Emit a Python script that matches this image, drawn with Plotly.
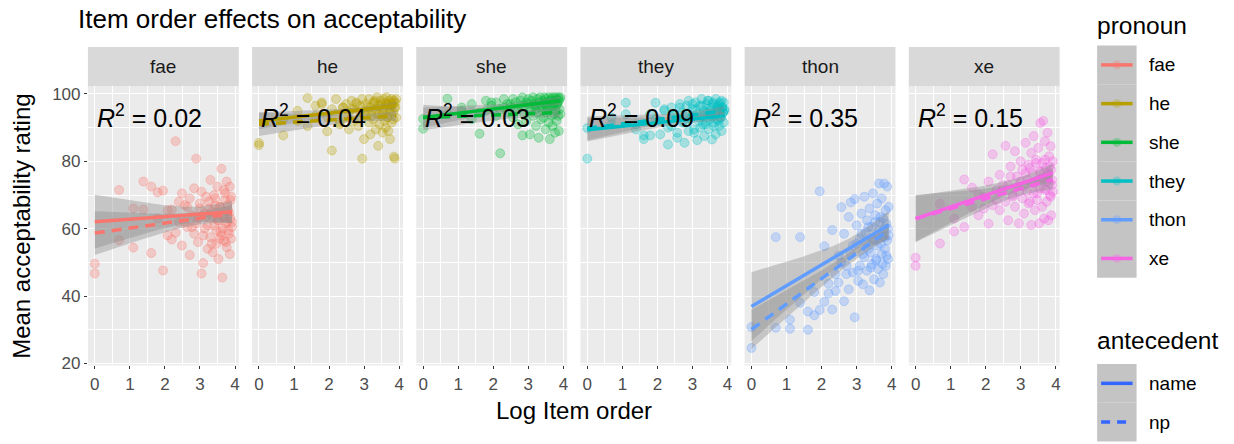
import numpy as np
import plotly.graph_objects as go

# ---- data -------------------------------------------------------------
pronouns = ["fae", "he", "she", "they", "thon", "xe"]
antecedents = ["name", "np"]
colors = ["#F8766D", "#B79F00", "#00BA38", "#00BFC4", "#619CFF", "#F564E3"]
r2_labels = ["0.02", "0.04", "0.03", "0.09", "0.35", "0.15"]
item_order = list(range(1, 51))
x_ticks = [0, 1, 2, 3, 4]
y_ticks = [20, 40, 60, 80, 100]

# mean acceptability per item position (name antecedent / np antecedent)
fae_name = [49.6, 71.5, 66.0, 74.0, 72.5, 70.8, 71.3, 65.5, 65.7, 86.0,
            68.0, 70.5, 62.0, 66.5, 69.0, 60.5, 72.0, 80.8, 63.0, 67.5,
            71.0, 58.0, 64.5, 69.5, 61.0, 66.0, 74.5, 55.5, 63.5, 70.0,
            67.0, 59.5, 72.5, 62.5, 57.0, 66.5, 77.8, 60.0, 64.0, 71.5,
            68.5, 56.0, 74.0, 62.0, 65.5, 58.5, 72.5, 63.0, 69.5, 60.5]
fae_np = [46.7, 56.6, 54.4, 65.7, 52.8, 63.0, 47.6, 58.0, 56.8, 58.8,
          62.0, 55.0, 67.0, 60.5, 52.2, 64.0, 58.5, 61.5, 56.0, 66.0,
          46.7, 49.8, 60.0, 63.5, 54.0, 68.0, 57.5, 65.0, 53.0, 61.0,
          69.0, 55.5, 62.5, 51.0, 66.5, 59.0, 58.0, 45.5, 63.5, 56.5,
          70.5, 61.5, 54.5, 67.0, 59.5, 64.5, 52.5, 68.5, 57.0, 62.0]
he_name = [85.5, 87.7, 92.0, 98.8, 96.5, 97.5, 93.0, 95.5, 98.5, 91.5,
           96.0, 97.0, 94.5, 98.0, 95.5, 97.5, 92.5, 96.5, 98.5, 94.0,
           97.0, 95.0, 98.5, 96.0, 93.5, 97.5, 98.0, 95.5, 99.0, 96.5,
           94.0, 98.0, 97.0, 95.0, 98.5, 96.0, 97.5, 99.0, 93.0, 97.0,
           98.0, 95.5, 96.5, 98.5, 97.0, 94.5, 98.0, 96.0, 97.5, 98.5]
he_np = [84.8, 92.5, 95.0, 90.5, 93.5, 97.0, 88.9, 83.2, 94.0, 91.0,
         96.0, 93.0, 89.5, 95.5, 92.0, 97.0, 90.5, 94.5, 80.8, 86.6,
         93.5, 96.0, 91.5, 88.0, 95.0, 92.5, 97.5, 89.5, 94.0, 84.6,
         91.0, 96.5, 93.5, 88.5, 95.5, 92.0, 90.0, 97.0, 93.0, 89.0,
         95.0, 86.6, 94.5, 91.5, 97.5, 92.5, 81.4, 80.8, 96.0, 93.0]
she_name = [92.6, 98.6, 95.0, 97.0, 94.5, 98.0, 96.5, 97.5, 95.5, 98.5,
            97.0, 96.0, 98.5, 97.5, 95.5, 98.0, 99.0, 96.5, 97.5, 98.5,
            96.0, 98.0, 99.0, 97.0, 95.5, 98.5, 97.5, 99.0, 96.5, 98.0,
            97.5, 99.0, 98.5, 96.0, 97.5, 99.0, 98.0, 96.5, 98.5, 99.0,
            97.5, 98.0, 99.0, 96.5, 98.5, 97.5, 99.0, 98.0, 98.5, 99.0]
she_np = [89.7, 94.0, 96.0, 92.5, 88.2, 95.0, 97.5, 93.5, 82.4, 96.0,
          94.5, 97.0, 93.0, 95.5, 91.0, 96.5, 87.7, 94.0, 92.0, 97.0,
          88.0, 95.0, 93.5, 96.5, 90.5, 94.5, 87.0, 96.0, 92.5, 95.0,
          93.0, 97.0, 89.5, 94.5, 96.0, 91.5, 86.6, 95.5, 93.5, 90.5,
          96.5, 94.0, 88.5, 95.0, 92.0, 97.0, 93.5, 89.0, 95.5, 94.0]
they_name = [89.9, 93.0, 97.4, 91.0, 87.7, 94.0, 97.4, 92.0, 95.5, 90.0,
             96.0, 93.5, 88.5, 97.0, 94.5, 91.5, 96.5, 98.0, 93.0, 95.5,
             89.5, 97.5, 94.0, 92.0, 96.5, 98.5, 93.5, 95.0, 91.0, 97.0,
             94.5, 98.0, 92.5, 96.0, 93.5, 97.5, 90.5, 95.0, 98.5, 94.0,
             96.5, 92.0, 97.0, 95.5, 93.0, 98.0, 96.0, 94.5, 97.5, 95.0]
they_np = [80.8, 91.0, 94.0, 89.5, 86.6, 87.7, 92.5, 88.0, 95.0, 85.0,
           90.5, 93.5, 87.0, 96.0, 91.5, 85.5, 94.0, 89.0, 92.5, 97.0,
           88.5, 95.5, 86.3, 93.0, 90.0, 96.5, 91.0, 87.5, 94.5, 92.0,
           98.0, 89.5, 95.0, 93.5, 86.5, 97.0, 91.5, 94.0, 88.0, 96.0,
           92.5, 95.5, 90.5, 97.5, 93.0, 89.0, 96.0, 94.5, 91.5, 95.5]
thon_name = [30.8, 57.5, 30.3, 57.5, 35.4, 41.2, 71.1, 54.8, 43.7, 59.6,
             46.5, 52.0, 66.4, 58.5, 49.0, 63.5, 67.8, 55.0, 68.8, 61.0,
             47.5, 57.0, 64.5, 52.5, 69.5, 59.0, 62.5, 54.0, 66.0, 48.5,
             60.5, 70.5, 56.5, 64.0, 51.0, 67.5, 58.0, 73.4, 62.0, 55.5,
             69.0, 49.5, 63.0, 73.4, 57.5, 65.5, 52.0, 72.5, 60.0, 66.5]
thon_np = [24.6, 30.6, 33.0, 38.0, 30.0, 34.3, 35.9, 38.3, 40.8, 36.0,
           41.5, 44.0, 50.0, 38.5, 46.5, 42.0, 52.5, 47.0, 33.7, 55.5,
           44.5, 49.0, 58.5, 43.5, 51.5, 56.0, 47.5, 60.5, 41.7, 53.0,
           49.5, 57.0, 45.0, 62.0, 50.5, 55.0, 48.0, 59.5, 44.0, 63.5,
           52.5, 57.5, 46.5, 60.0, 54.0, 49.0, 61.5, 56.5, 51.0, 58.0]
xe_name = [51.4, 67.4, 59.2, 74.6, 72.2, 70.2, 66.0, 74.0, 82.1, 68.5,
           76.0, 71.5, 84.6, 73.0, 78.5, 69.5, 83.0, 75.5, 71.0, 80.0,
           77.5, 72.5, 85.5, 74.5, 79.0, 68.0, 82.5, 76.5, 87.5, 73.5,
           80.5, 70.5, 84.0, 77.0, 91.4, 75.0, 79.5, 92.0, 72.0, 86.0,
           78.0, 74.0, 88.5, 76.5, 81.5, 70.0, 84.5, 77.5, 73.0, 80.0]
xe_np = [49.0, 55.6, 63.0, 60.5, 66.5, 64.0, 69.5, 61.5, 67.0, 71.5,
         65.5, 73.0, 68.0, 62.5, 75.5, 70.0, 66.5, 72.5, 61.6, 74.0,
         69.0, 64.5, 76.5, 71.0, 67.5, 78.0, 61.1, 73.5, 70.5, 65.5,
         79.5, 68.5, 74.5, 61.6, 72.0, 77.0, 66.5, 75.0, 63.0, 80.5,
         71.5, 68.0, 76.0, 62.5, 73.5, 78.5, 69.5, 64.0, 74.5, 71.0]

ratings = {
    "fae": (fae_name, fae_np), "he": (he_name, he_np), "she": (she_name, she_np),
    "they": (they_name, they_np), "thon": (thon_name, thon_np), "xe": (xe_name, xe_np),
}

# linear fits: value at first item, value at last item, CI half-width at first item
fit_name_start = [62.1, 92.0, 93.0, 89.4, 36.9, 63.0]
fit_name_end = [65.0, 96.5, 98.0, 93.5, 61.1, 76.6]
fit_name_ci0 = [8.0, 2.5, 3.0, 3.5, 10.2, 6.8]
fit_np_start = [58.7, 91.0, 93.0, 89.8, 30.1, 63.0]
fit_np_end = [64.5, 93.5, 94.5, 95.0, 59.6, 74.6]
fit_np_ci0 = [6.5, 3.5, 3.8, 3.5, 5.8, 7.0]

# ---- geometry (pixels in a 1234 x 444 canvas) ----------------------------
W, H = 1234, 444
panel_left0, panel_w, panel_step = 88, 151, 164.3
panel_top, panel_bottom = 87, 372
strip_top = 47

TICK_SIZE = 17
AXIS_TITLE_SIZE = 24
STRIP_SIZE = 19
R2_SIZE = 25
LEGEND_TITLE_SIZE = 24.5
LEGEND_TEXT_SIZE = 19


def fx(px):
    return px / W


def fy(py):
    return 1 - py / H


def rgba(hex_color, a):
    h = hex_color.lstrip("#")
    r, g, b = int(h[0:2], 16), int(h[2:4], 16), int(h[4:6], 16)
    return f"rgba({r},{g},{b},{a})"


x_pts = np.log(np.array(item_order, dtype=float))
x_last = x_pts[-1]
n = len(x_pts)
xbar = x_pts.mean()
sxx = ((x_pts - xbar) ** 2).sum()
x_line = np.linspace(0, x_last, 80)


def se_shape(x):
    return np.sqrt(1 / n + (x - xbar) ** 2 / sxx)


fig = go.Figure()
layout_axes = {}
annotations = []
shapes = []

for i, p in enumerate(pronouns):
    k = "" if i == 0 else str(i + 1)
    xa, ya = "x" + k, "y" + k
    left = panel_left0 + i * panel_step
    right = left + panel_w
    col = colors[i]

    layout_axes["xaxis" + k] = dict(
        domain=[fx(left), fx(right)], anchor=ya, range=[-0.196, 4.107],
        tickvals=x_ticks, ticktext=[str(t) for t in x_ticks],
        showgrid=True, gridcolor="white", gridwidth=1.1, zeroline=False,
        minor=dict(dtick=0.5, tick0=0, showgrid=True, gridcolor="white", gridwidth=0.5),
        ticks="outside", ticklen=3, tickcolor="#333333", tickwidth=1.1,
        tickfont=dict(size=TICK_SIZE, color="#4D4D4D"), showline=False,
    )
    layout_axes["yaxis" + k] = dict(
        domain=[fy(panel_bottom), fy(panel_top)], anchor=xa, range=[19.4, 102.3],
        tickvals=y_ticks, showgrid=True, gridcolor="white", gridwidth=1.1, zeroline=False,
        minor=dict(dtick=10, tick0=10, showgrid=True, gridcolor="white", gridwidth=0.5),
        ticks="outside" if i == 0 else "", ticklen=3, tickcolor="#333333", tickwidth=1.1,
        showticklabels=(i == 0), tickfont=dict(size=TICK_SIZE, color="#4D4D4D"), showline=False,
    )

    # points
    for vals in ratings[p]:
        fig.add_trace(go.Scatter(
            x=x_pts, y=vals, mode="markers", xaxis=xa, yaxis=ya, showlegend=False,
            marker=dict(size=9, color=rgba(col, 0.3), line=dict(color=rgba(col, 0.3), width=1)),
            hoverinfo="skip",
        ))

    fits = [
        (fit_name_start[i], fit_name_end[i], fit_name_ci0[i], "solid"),
        (fit_np_start[i], fit_np_end[i], fit_np_ci0[i], "10px,7px"),
    ]
    # confidence ribbons
    for y0, y1, ci0, _ in fits:
        yl = y0 + (y1 - y0) * x_line / x_last
        hw = ci0 * se_shape(x_line) / se_shape(0.0)
        fig.add_trace(go.Scatter(
            x=np.concatenate([x_line, x_line[::-1]]),
            y=np.concatenate([yl + hw, (yl - hw)[::-1]]),
            fill="toself", fillcolor="rgba(140,140,140,0.4)", line=dict(width=0),
            mode="lines", xaxis=xa, yaxis=ya, showlegend=False, hoverinfo="skip",
        ))
    # fitted lines
    for y0, y1, ci0, dash in fits:
        yl = y0 + (y1 - y0) * x_line / x_last
        fig.add_trace(go.Scatter(
            x=x_line, y=yl, mode="lines", xaxis=xa, yaxis=ya, showlegend=False,
            line=dict(color=col, width=3.5, dash=dash), hoverinfo="skip",
        ))

    annotations.append(dict(
        x=0, y=93.6, xref=xa, yref=ya, xanchor="left", yanchor="middle", showarrow=False,
        text=f"<i>R</i><sup>2</sup> = {r2_labels[i]}", font=dict(size=R2_SIZE, color="black"),
    ))

    # facet strip
    shapes.append(dict(type="rect", xref="paper", yref="paper", x0=fx(left), x1=fx(right),
                       y0=fy(panel_top), y1=fy(strip_top), fillcolor="#D9D9D9", line=dict(width=0),
                       layer="below"))
    annotations.append(dict(x=fx((left + right) / 2), y=fy((strip_top + panel_top) / 2),
                            xref="paper", yref="paper", text=p, showarrow=False,
                            font=dict(size=STRIP_SIZE, color="#1A1A1A"), xanchor="center", yanchor="middle"))

# ---- titles -----------------------------------------------------------
annotations.append(dict(x=fx(76), y=fy(18), xref="paper", yref="paper", showarrow=False,
                        text="Item order effects on acceptability", xanchor="left", yanchor="middle",
                        font=dict(size=26, color="black")))
annotations.append(dict(x=fx((panel_left0 + panel_left0 + 5 * panel_step + panel_w) / 2), y=fy(418),
                        xref="paper", yref="paper", showarrow=False, text="Log Item order",
                        xanchor="center", yanchor="middle", font=dict(size=AXIS_TITLE_SIZE, color="black")))
annotations.append(dict(x=fx(22), y=fy((panel_top + panel_bottom) / 2), xref="paper", yref="paper",
                        showarrow=False, text="Mean acceptability rating", textangle=-90,
                        xanchor="center", yanchor="middle", font=dict(size=AXIS_TITLE_SIZE, color="black")))

# ---- legends ----------------------------------------------------------
key_x0, key_x1 = 1098, 1137.5
key_h = 39.5
annotations.append(dict(x=fx(key_x0 - 2), y=fy(25), xref="paper", yref="paper", showarrow=False,
                        text="pronoun", xanchor="left", yanchor="middle",
                        font=dict(size=LEGEND_TITLE_SIZE, color="black")))
pk_top = 45.5
for j, p in enumerate(pronouns):
    cy = pk_top + key_h * (j + 0.5)
    shapes.append(dict(type="rect", xref="paper", yref="paper", x0=fx(key_x0), x1=fx(key_x1),
                       y0=fy(pk_top + key_h * (j + 1)), y1=fy(pk_top + key_h * j),
                       fillcolor="#C4C4C4", line=dict(width=0)))
    shapes.append(dict(type="circle", xref="paper", yref="paper",
                       x0=fx((key_x0 + key_x1) / 2 - 4.5), x1=fx((key_x0 + key_x1) / 2 + 4.5),
                       y0=fy(cy + 4.5), y1=fy(cy - 4.5), fillcolor=rgba(colors[j], 0.3),
                       line=dict(width=0)))
    shapes.append(dict(type="line", xref="paper", yref="paper", x0=fx(key_x0 + 4), x1=fx(key_x1 - 4),
                       y0=fy(cy), y1=fy(cy), line=dict(color=colors[j], width=3.5)))
    annotations.append(dict(x=fx(1148), y=fy(cy), xref="paper", yref="paper", showarrow=False,
                            text=p, xanchor="left", yanchor="middle",
                            font=dict(size=LEGEND_TEXT_SIZE, color="black")))

annotations.append(dict(x=fx(key_x0 - 2), y=fy(347), xref="paper", yref="paper", showarrow=False,
                        text="antecedent", xanchor="left", yanchor="middle",
                        font=dict(size=LEGEND_TITLE_SIZE, color="black")))
ak_top = 370.5
for j, a in enumerate(antecedents):
    cy = ak_top + key_h * (j + 0.5)
    shapes.append(dict(type="rect", xref="paper", yref="paper", x0=fx(key_x0), x1=fx(key_x1),
                       y0=fy(ak_top + key_h * (j + 1)), y1=fy(ak_top + key_h * j),
                       fillcolor="#C4C4C4", line=dict(width=0)))
    shapes.append(dict(type="line", xref="paper", yref="paper", x0=fx(key_x0 + 4), x1=fx(key_x1 - 4),
                       y0=fy(cy), y1=fy(cy),
                       line=dict(color="#3366FF", width=3.5, dash="solid" if j == 0 else "9px,7px")))
    annotations.append(dict(x=fx(1148), y=fy(cy), xref="paper", yref="paper", showarrow=False,
                            text=a, xanchor="left", yanchor="middle",
                            font=dict(size=LEGEND_TEXT_SIZE, color="black")))

fig.update_layout(
    width=W, height=H, margin=dict(l=0, r=0, t=0, b=0),
    paper_bgcolor="white", plot_bgcolor="#EBEBEB",
    font=dict(family="Liberation Sans, Arial, sans-serif"),
    showlegend=False, annotations=annotations, shapes=shapes,
    **layout_axes,
)

fig.write_html("out.html")
